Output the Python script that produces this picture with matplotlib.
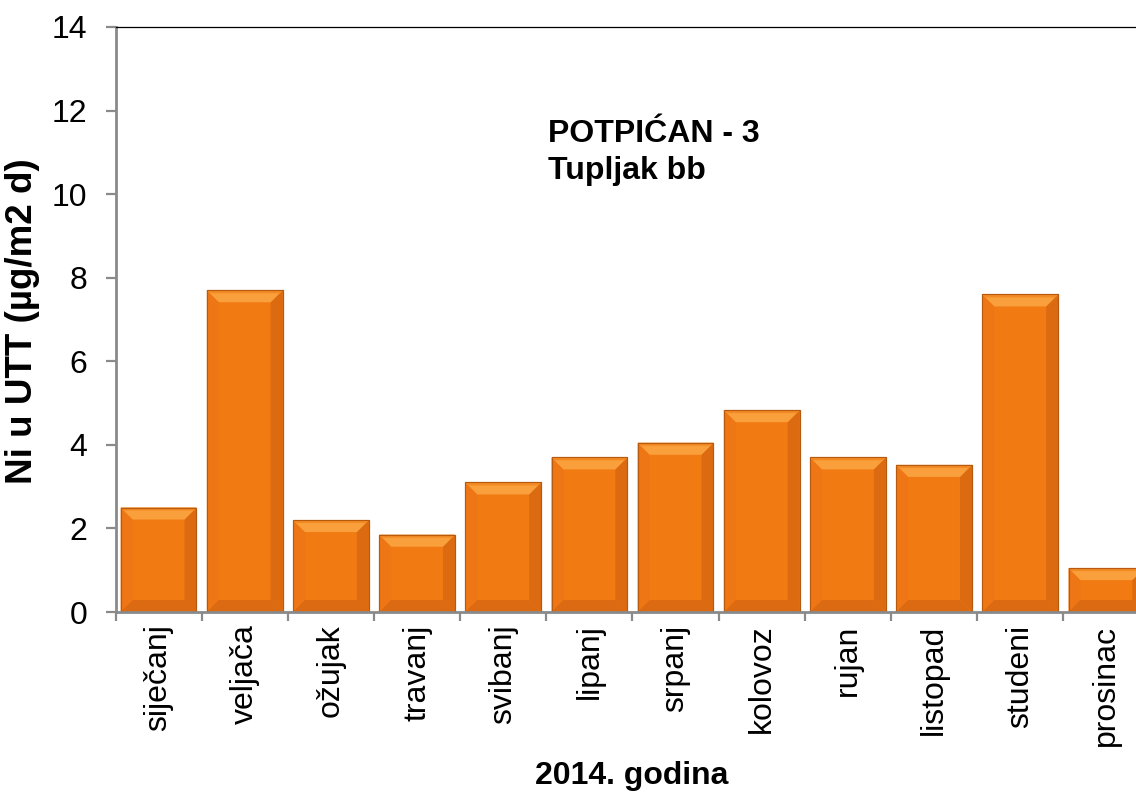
import numpy as np
import matplotlib.pyplot as plt
from matplotlib.patches import Polygon

months = ['siječanj', 'veljača', 'ožujak', 'travanj', 'svibanj', 'lipanj',
          'srpanj', 'kolovoz', 'rujan', 'listopad', 'studeni', 'prosinac']
ni_values = [2.5, 7.7, 2.2, 1.85, 3.1, 3.7, 4.05, 4.83, 3.7, 3.52, 7.6, 1.05]

plt.rcParams['font.family'] = ['Liberation Sans', 'DejaVu Sans']

W, H = 1136, 793
fig = plt.figure(figsize=(W / 100, H / 100), dpi=100)
# the original chart runs past the right edge of the picture
ax_left, ax_bottom, ax_w, ax_h = 115.5, 612, 1034, 585
ax = fig.add_axes([ax_left / W, 1 - ax_bottom / H, ax_w / W, ax_h / H])

x = np.arange(len(months))
bar_w = 0.88
ax.set_xlim(-0.5, len(months) - 0.5)
ax.set_ylim(0, 14)

bars = ax.bar(x, ni_values, width=bar_w, color='#F27A12', edgecolor='#B65A10',
              linewidth=0.8, zorder=2)

# bevel look: light top, darker bottom and sides
px_x = len(months) / ax_w
px_y = 14 / ax_h
bev = 12
for b in bars:
    x0, x1 = b.get_x(), b.get_x() + b.get_width()
    y0, y1 = 0, b.get_height()
    bx, by = bev * px_x, bev * px_y
    top = [(x0, y1), (x1, y1), (x1 - bx, y1 - by), (x0 + bx, y1 - by)]
    bot = [(x0, y0), (x1, y0), (x1 - bx, y0 + by), (x0 + bx, y0 + by)]
    lft = [(x0, y0), (x0, y1), (x0 + bx, y1 - by), (x0 + bx, y0 + by)]
    rgt = [(x1, y0), (x1, y1), (x1 - bx, y1 - by), (x1 - bx, y0 + by)]
    ax.add_patch(Polygon(lft, closed=True, fc='#EE7614', ec='none', zorder=3))
    ax.add_patch(Polygon(rgt, closed=True, fc='#DC6A10', ec='none', zorder=3))
    ax.add_patch(Polygon(bot, closed=True, fc='#DB6A12', ec='none', zorder=3))
    ax.add_patch(Polygon(top, closed=True, fc='#F9A03C', ec='none', zorder=3))
    band = [(x0, y1), (x1, y1), (x1 - 3 * px_x, y1 - 3 * px_y), (x0 + 3 * px_x, y1 - 3 * px_y)]
    ax.add_patch(Polygon(band, closed=True, fc='#F28A24', ec='none', zorder=3))
    ax.add_patch(plt.Rectangle((x0, y0), x1 - x0, y1 - y0, fc='none', ec='#B65A10',
                               lw=0.8, zorder=4))

ax.spines['right'].set_visible(False)
ax.spines['top'].set_color('black')
ax.spines['top'].set_linewidth(0.9)
for s in ['left', 'bottom']:
    ax.spines[s].set_color('#8A8A8A')
    ax.spines[s].set_linewidth(2)
for s in ax.spines.values():
    s.set_zorder(5)

ax.set_yticks(np.arange(0, 15, 2))
ax.tick_params(axis='y', direction='out', length=7.2, width=1.6, color='#8A8A8A',
               pad=13, labelsize=23)
ax.set_xticks(x)
ax.set_xticklabels(months, rotation=90, fontsize=23)
ax.tick_params(axis='x', which='major', length=0, pad=9)
ax.set_xticks(np.arange(-0.5, len(months), 1), minor=True)
ax.tick_params(axis='x', which='minor', direction='out', length=6.5, width=1.6,
               color='#8A8A8A')

ax.set_ylabel('Ni u UTT (µg/m2 d)', fontsize=26.5, fontweight='bold')
ax.yaxis.set_label_coords(-(ax_left - 40) / ax_w, 0.497)
fig.text(632 / W, 1 - 776 / H, '2014. godina', fontsize=23, fontweight='bold',
         ha='center', va='center')

fig.text(548 / W, 1 - 119 / H, 'POTPIĆAN - 3\nTupljak bb', fontsize=23,
         fontweight='bold', ha='left', va='top', linespacing=1.32)

fig.savefig('out.png', dpi=100)
